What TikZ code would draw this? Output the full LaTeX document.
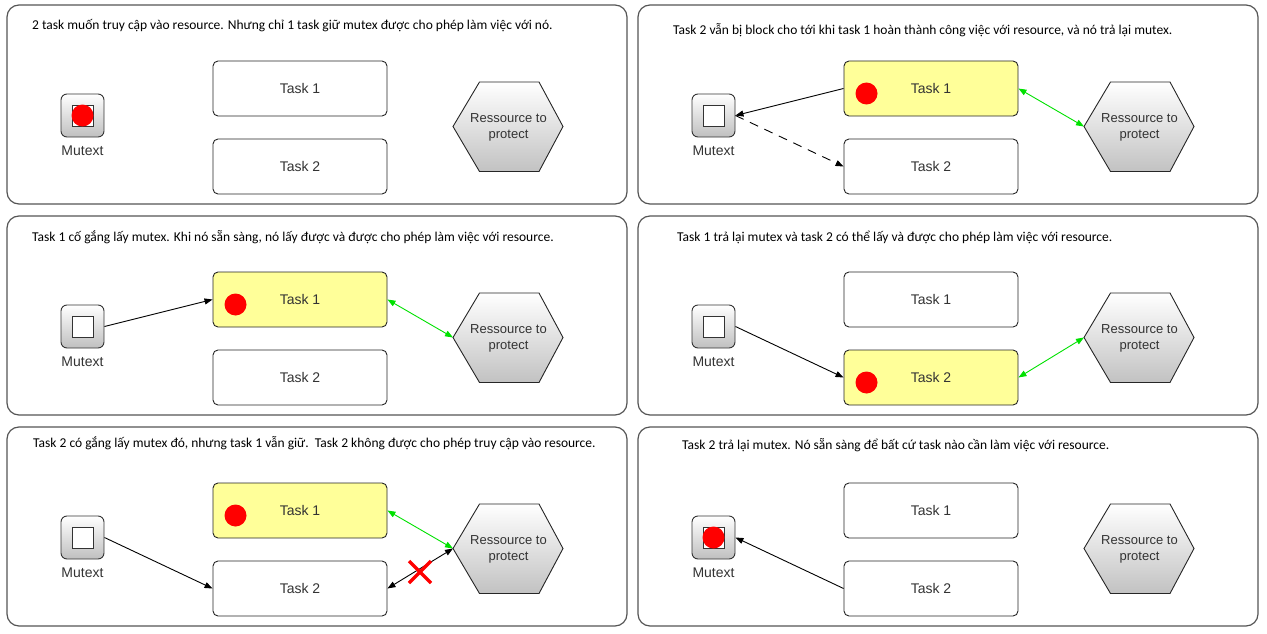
\documentclass[tikz,border=0pt]{standalone}
\usepackage{fontspec}
\setmainfont{Carlito}
\newfontfamily\arialf{Liberation Sans}
\usetikzlibrary{arrows.meta}
\definecolor{taskyellow}{RGB}{255,255,153}
\definecolor{brightgreen}{RGB}{0,225,0}
\definecolor{framegray}{RGB}{85,85,85}
\definecolor{labelgray}{RGB}{51,51,51}
\tikzset{
 panel/.style={draw=framegray, line width=1.2pt, rounded corners=12pt},
 caption/.style={anchor=west, inner sep=0pt, font=\fontsize{13.5}{15}\selectfont},
 taskbox/.style={draw=black!85, line width=0.9pt, rounded corners=5pt, minimum width=174pt, minimum height=55pt, fill=white, font=\arialf\fontsize{14}{16}\selectfont, text=labelgray},
 taskon/.style={taskbox, fill=taskyellow},
 mutexbox/.style={draw=black!80, line width=0.9pt, rounded corners=6pt, minimum size=43pt, inner sep=0pt, top color=white, bottom color=black!25},
 mutexin/.style={draw=black!80, line width=0.8pt, fill=white, minimum size=21pt, inner sep=0pt},
 reddot/.style={circle, fill=red, minimum size=22pt, inner sep=0pt},
 mlabel/.style={font=\arialf\fontsize{14}{16}\selectfont, text=labelgray, inner sep=0pt},
 hexshape/.style={draw=black!85, line width=0.9pt, top color=white, bottom color=black!24},
 hexlabel/.style={font=\arialf\fontsize{13}{16}\selectfont, text=labelgray, align=center, inner sep=0pt},
 tip/.tip={Triangle[length=8pt,width=6pt]},
 conn/.style={draw=black, line width=0.9pt, -tip},
 dconn/.style={conn, dash pattern=on 9pt off 7pt},
 greenconn/.style={draw=brightgreen, line width=0.9pt, tip-tip},
 blackdbl/.style={draw=black, line width=0.9pt, tip-tip},
 crossmark/.style={draw=red, line width=3.5pt},
}
\newcommand\hexres[1]{%
 \draw[hexshape] (453,126.5) -- (479.5,82) -- (539,82) -- (563,126.5) -- (539,171.5) -- (479.5,171.5) -- cycle;
 \coordinate (hw#1) at (453,126.5);
 \node[hexlabel] (hl#1) at (508.5,127.5) {Ressource to\\protect};
}
\newcommand\mutexblock[1]{%
 \node[mutexbox] (m#1) at (82.5,115.5) {};
 \node[mutexin] (mi#1) at (m#1.center) {};
 \node[mlabel] (ml#1) at (82.5,150.5) {Mutext};
}
\begin{document}
\begin{tikzpicture}[x=1pt,y=-1pt]
\useasboundingbox (0,0) rectangle (1267,634);
% ---------- panel 1
\begin{scope}
 \draw[panel] (7,5) rectangle (627,204);
 \node[caption] (c1) at (32,26) {2 task muốn truy cập vào resource. Nhưng chỉ 1 task giữ mutex được cho phép làm việc với nó.};
 \node[taskbox] (ta1) at (300,88.5) {Task 1};
 \node[taskbox] (tb1) at (300,166.5) {Task 2};
 \mutexblock{1}
 \node[reddot] (rm1) at (m1.center) {};
 \hexres{1}
\end{scope}
% ---------- panel 2
\begin{scope}[shift={(631,0)}]
 \draw[panel] (7,5) rectangle (627,204);
 \node[caption] (c2) at (42,30) {Task 2 vẫn bị block cho tới khi task 1 hoàn thành công việc với resource, và nó trả lại mutex.};
 \node[taskon] (ta2) at (300,88.5) {Task 1};
 \node[reddot] (rt2) at ([shift={(-64.5,5)}]ta2.center) {};
 \node[taskbox] (tb2) at (300,166.5) {Task 2};
 \mutexblock{2}
 \hexres{2}
 \draw[conn] (ta2.west) -- (m2.east);
 \draw[dconn] (m2.east) -- (tb2.west);
 \draw[greenconn] (ta2.east) -- (hw2);
\end{scope}
% ---------- panel 3
\begin{scope}[shift={(0,211)}]
 \draw[panel] (7,5) rectangle (627,204);
 \node[caption] (c3) at (32,26) {Task 1 cố gắng lấy mutex. Khi nó sẵn sàng, nó lấy được và được cho phép làm việc với resource.};
 \node[taskon] (ta3) at (300,88.5) {Task 1};
 \node[reddot] (rt3) at ([shift={(-64.5,5)}]ta3.center) {};
 \node[taskbox] (tb3) at (300,166.5) {Task 2};
 \mutexblock{3}
 \hexres{3}
 \draw[conn] (m3.east) -- (ta3.west);
 \draw[greenconn] (ta3.east) -- (hw3);
\end{scope}
% ---------- panel 4
\begin{scope}[shift={(631,211)}]
 \draw[panel] (7,5) rectangle (627,204);
 \node[caption] (c4) at (46,26) {Task 1 trả lại mutex và task 2 có thể lấy và được cho phép làm việc với resource.};
 \node[taskbox] (ta4) at (300,88.5) {Task 1};
 \node[taskon] (tb4) at (300,166.5) {Task 2};
 \node[reddot] (rt4) at ([shift={(-64.5,5)}]tb4.center) {};
 \mutexblock{4}
 \hexres{4}
 \draw[conn] (m4.east) -- (tb4.west);
 \draw[greenconn] (tb4.east) -- (hw4);
\end{scope}
% ---------- panel 5
\begin{scope}[shift={(0,422)}]
 \draw[panel] (7,5) rectangle (627,204);
 \node[caption] (c5) at (33,21) {Task 2 có gắng lấy mutex đó, nhưng task 1 vẫn giữ.\ \ Task 2 không được cho phép truy cập vào resource.};
 \node[taskon] (ta5) at (300,88.5) {Task 1};
 \node[reddot] (rt5) at ([shift={(-64.5,5)}]ta5.center) {};
 \node[taskbox] (tb5) at (300,166.5) {Task 2};
 \mutexblock{5}
 \hexres{5}
 \draw[conn] (m5.east) -- (tb5.west);
 \draw[greenconn] (ta5.east) -- (hw5);
 \draw[blackdbl] (tb5.east) -- (hw5);
 \coordinate (xc5) at (420,150);
 \draw[crossmark] ([shift={(-11,-11)}]xc5) -- ([shift={(11,11)}]xc5);
 \draw[crossmark] ([shift={(-11,11)}]xc5) -- ([shift={(11,-11)}]xc5);
\end{scope}
% ---------- panel 6
\begin{scope}[shift={(631,422)}]
 \draw[panel] (7,5) rectangle (627,204);
 \node[caption] (c6) at (51,23) {Task 2 trả lại mutex. Nó sẵn sàng để bất cứ task nào cần làm việc với resource.};
 \node[taskbox] (ta6) at (300,88.5) {Task 1};
 \node[taskbox] (tb6) at (300,166.5) {Task 2};
 \mutexblock{6}
 \node[reddot] (rm6) at (m6.center) {};
 \hexres{6}
 \draw[conn] (tb6.west) -- (m6.east);
\end{scope}
\end{tikzpicture}
\end{document}
